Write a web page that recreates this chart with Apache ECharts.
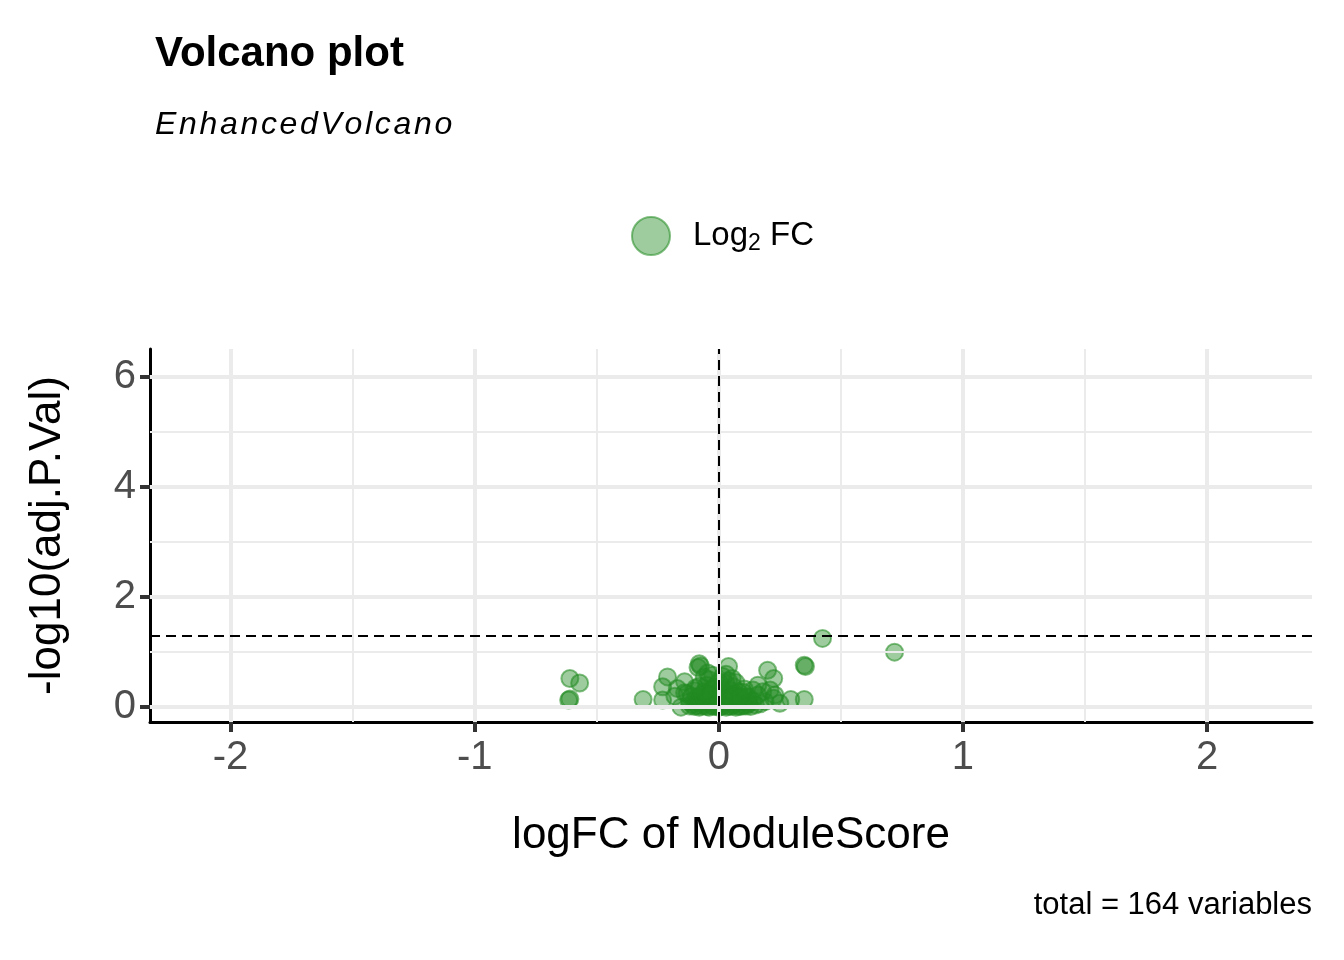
<!DOCTYPE html>
<html style="height: 100%">
<head>
<meta charset="utf-8">
<script src="https://cdn.jsdelivr.net/npm/echarts@6/dist/echarts.min.js"></script>
</head>
<body style="height: 100%; margin: 0; background: #fff">
<div id="chart" style="width: 1344px; height: 960px"></div>
<script>
// logFC values and -log10(adj.P.Val)
var logFC = [0.425, 0.72, 0.35, 0.355, -0.61, -0.57, -0.61, -0.615, -0.31, -0.23, 0.35, 0.295, 0.25,
  -0.08, -0.075, -0.085, 0.04, 0.2, 0.225, -0.21, -0.23, -0.14, 0.14, 0.21, 0.225, -0.155, 0.12,
  -0.12, -0.11, -0.1, -0.09, -0.08, -0.07, -0.06, -0.05, -0.04, -0.03, -0.02, -0.01, 0.0, 0.01, 0.02,
  0.03, 0.04, 0.05, 0.06, 0.07, 0.08, 0.09, 0.1, 0.11, 0.12, 0.13, 0.15, 0.17,
  -0.12, -0.1, -0.08, -0.06, -0.04, -0.02, 0.0, 0.02, 0.04, 0.06, 0.08, 0.1, 0.12, 0.14,
  -0.11, -0.09, -0.07, -0.05, -0.03, -0.01, 0.01, 0.03, 0.05, 0.07, 0.09, 0.11,
  -0.1, -0.06, -0.03, 0.0, 0.02, 0.05, 0.08, 0.1,
  -0.08, -0.05, -0.02, 0.01, 0.03, 0.06, -0.04, 0.0, 0.04, -0.06, 0.03, 0.07,
  -0.13, 0.16, -0.015, 0.025, 0.045, -0.035, 0.065, -0.055, 0.085, -0.095, 0.105, -0.045,
  0.19, 0.18, -0.17, -0.18, 0.23, 0.16, -0.14, 0.055, 0.015, -0.025];
var negLogP = [1.25, 1.0, 0.76, 0.74, 0.52, 0.44, 0.15, 0.13, 0.14, 0.13, 0.14, 0.14, 0.07,
  0.79, 0.75, 0.72, 0.74, 0.67, 0.52, 0.55, 0.37, 0.46, 0.31, 0.31, 0.16, 0.0, 0.19,
  0.02, 0.05, 0.01, 0.03, 0.0, 0.02, 0.04, 0.01, 0.0, 0.03, 0.01, 0.02, 0.0, 0.01, 0.03,
  0.0, 0.02, 0.01, 0.04, 0.0, 0.02, 0.01, 0.03, 0.02, 0.05, 0.01, 0.04, 0.06,
  0.1, 0.12, 0.09, 0.11, 0.13, 0.1, 0.12, 0.09, 0.11, 0.13, 0.1, 0.12, 0.09, 0.11,
  0.2, 0.18, 0.22, 0.19, 0.21, 0.2, 0.18, 0.22, 0.19, 0.21, 0.2, 0.18,
  0.3, 0.28, 0.32, 0.29, 0.31, 0.3, 0.28, 0.27,
  0.38, 0.4, 0.36, 0.39, 0.42, 0.37, 0.5, 0.46, 0.48, 0.55, 0.6, 0.45,
  0.25, 0.22, 0.16, 0.15, 0.17, 0.24, 0.23, 0.26, 0.18, 0.35, 0.33, 0.62,
  0.1, 0.28, 0.34, 0.2, 0.22, 0.4, 0.26, 0.52, 0.56, 0.58];
var xTicks = [-2, -1, 0, 1, 2];
var xMinor = [-1.5, -0.5, 0.5, 1.5];
var yTicks = [0, 2, 4, 6];
var yMinor = [1, 3, 5];
var pCut = 1.301;

var chart = echarts.init(document.getElementById('chart'));
var points = logFC.map(function (v, i) { return [v, negLogP[i]]; });
var gridCol = '#ebebeb';
function vLines(vals, w) {
  return vals.map(function (v) { return { xAxis: v, lineStyle: { color: gridCol, width: w, type: 'solid' } }; });
}
function hLines(vals, w) {
  return vals.map(function (v) { return { yAxis: v, lineStyle: { color: gridCol, width: w, type: 'solid' } }; });
}
var tickLabel = { fontSize: 40, color: '#4d4d4d', fontFamily: 'Liberation Sans' };
chart.setOption({
  animation: false,
  title: {
    text: 'Volcano plot', left: 150, top: 28,
    textStyle: { fontSize: 42, fontWeight: 'bold', color: '#000', fontFamily: 'Liberation Sans' },
    subtext: 'E\u200an\u200ah\u200aa\u200an\u200ac\u200ae\u200ad\u200aV\u200ao\u200al\u200ac\u200aa\u200an\u200ao', itemGap: 34,
    subtextStyle: { fontSize: 32, fontStyle: 'italic', color: '#000', fontFamily: 'Liberation Sans' }
  },
  legend: {
    top: 211, left: 626, itemWidth: 38, itemHeight: 38, itemGap: 20,
    data: ['Log2 FC'],
    formatter: function () { return '{a|Log}{b|2}{a| FC}'; },
    textStyle: {
      color: '#000', padding: [0, 0, 0, 18],
      rich: {
        a: { fontSize: 33, fontFamily: 'Liberation Sans', color: '#000' },
        b: { fontSize: 23, fontFamily: 'Liberation Sans', color: '#000', verticalAlign: 'bottom', padding: [16, 0, 0, 0] }
      }
    }
  },
  graphic: [{
    type: 'text', right: 32, top: 890,
    style: { text: 'total = 164 variables', fontSize: 31, fill: '#000', fontFamily: 'Liberation Sans' }
  }],
  grid: { left: 150, right: 32, top: 349, bottom: 238 },
  xAxis: {
    type: 'value', min: -2.33, max: 2.43,
    name: 'logFC of ModuleScore', nameLocation: 'middle', nameGap: 92,
    nameTextStyle: { fontSize: 44, color: '#000', fontFamily: 'Liberation Sans' },
    axisLine: { onZero: false, lineStyle: { color: '#000', width: 3 } },
    axisTick: { customValues: xTicks, length: 10, lineStyle: { color: '#333', width: 4 } },
    axisLabel: Object.assign({ customValues: xTicks, margin: 16 }, tickLabel),
    splitLine: { show: false }
  },
  yAxis: {
    type: 'value', min: -0.27, max: 6.51,
    name: '-log10(adj.P.Val)', nameLocation: 'middle', nameGap: 80, nameRotate: 90,
    nameTextStyle: { fontSize: 44, color: '#000', fontFamily: 'Liberation Sans' },
    axisLine: { show: true, onZero: false, lineStyle: { color: '#000', width: 3 } },
    axisTick: { show: true, customValues: yTicks, length: 10, lineStyle: { color: '#333', width: 4 } },
    axisLabel: Object.assign({ customValues: yTicks, margin: 14 }, tickLabel),
    splitLine: { show: false }
  },
  series: [{
    type: 'scatter', data: [], z: 1, silent: true,
    markLine: {
      silent: true, symbol: 'none', label: { show: false }, animation: false,
      data: vLines(xMinor, 2).concat(hLines(yMinor, 2), vLines(xTicks, 4), hLines(yTicks, 4))
    }
  }, {
    name: 'Log2 FC', type: 'scatter', data: points, z: 3,
    symbolSize: 17,
    itemStyle: { color: 'rgba(34,139,34,0.55)', borderColor: 'rgba(34,139,34,0.7)', borderWidth: 2 },
    markLine: {
      silent: true, symbol: 'none', label: { show: false }, animation: false,
      lineStyle: { color: '#000', width: 2, type: [10, 6] },
      data: [{ xAxis: 0 }, { yAxis: pCut }]
    }
  }]
});
</script>
</body>
</html>
